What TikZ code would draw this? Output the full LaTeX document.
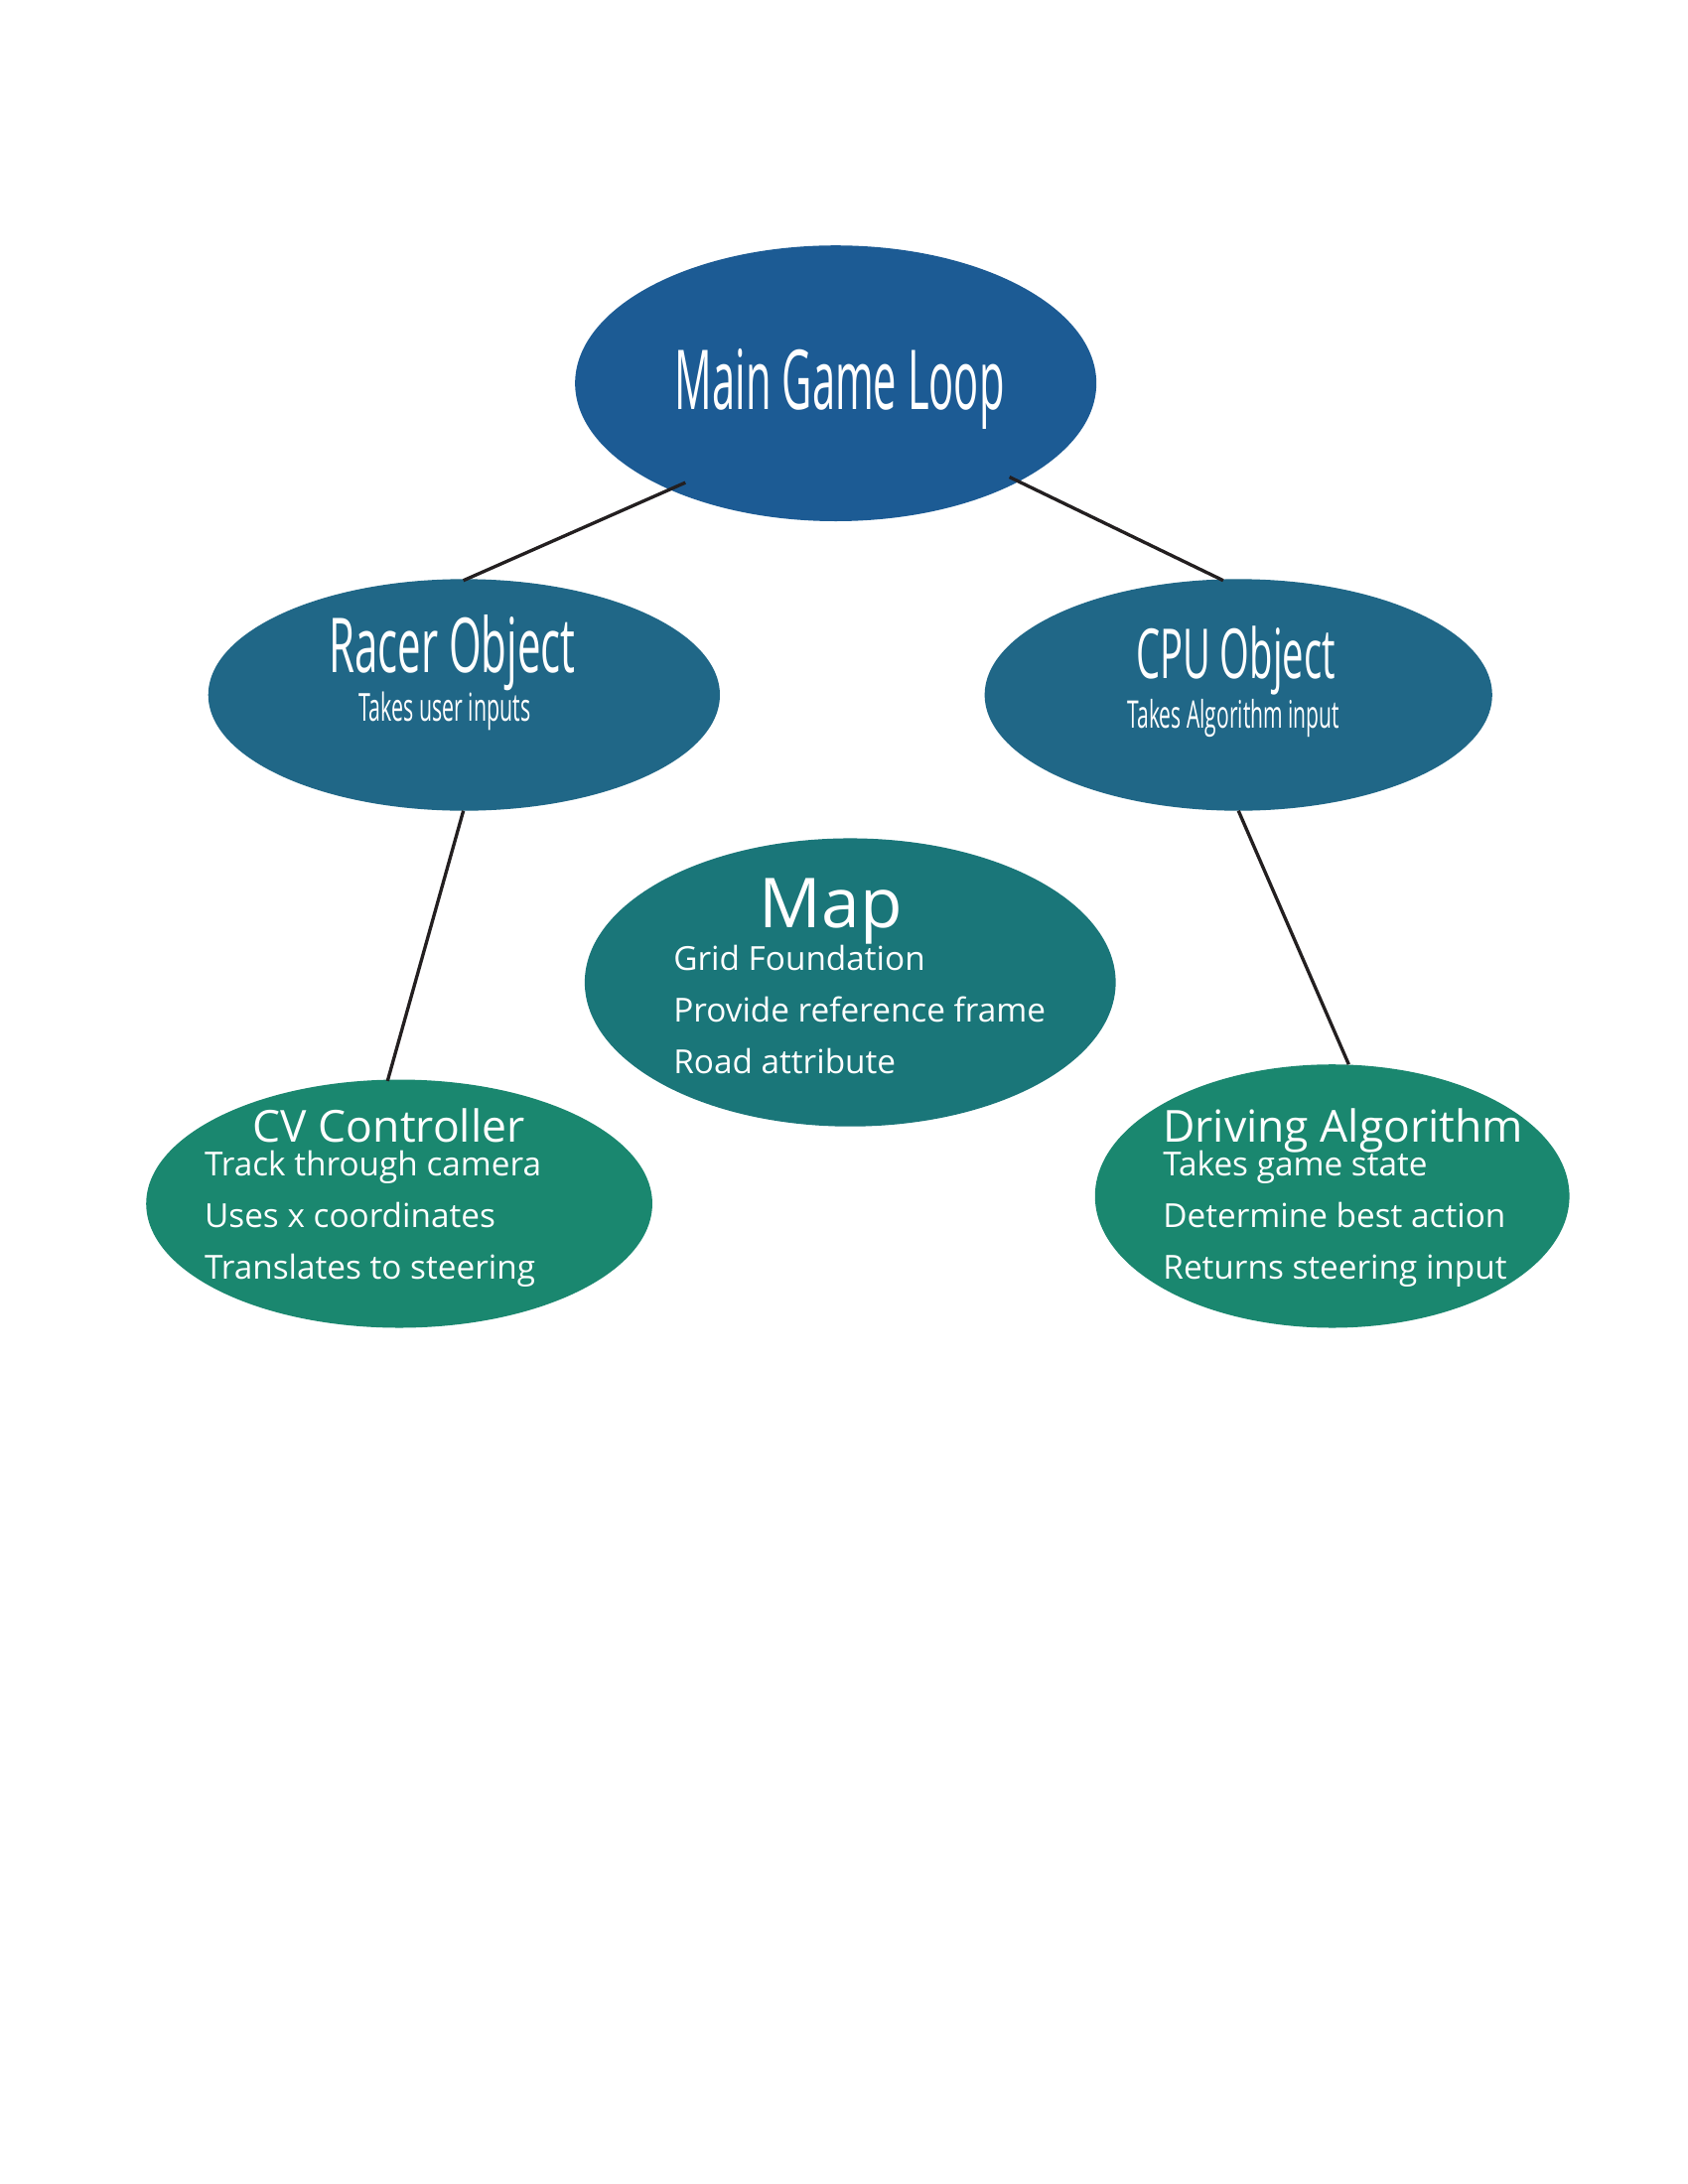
\documentclass[tikz,border=0pt]{standalone}
\usepackage{fontspec}
\setmainfont{Open Sans}
\newfontfamily\condfont[FakeStretch=0.55]{Open Sans}
\newfontfamily\narrowfont[FakeStretch=0.5]{Open Sans}
\usetikzlibrary{shapes.geometric}
\definecolor{cmain}{RGB}{28,91,148}
\definecolor{cmid}{RGB}{32,103,135}
\definecolor{cmap}{RGB}{26,118,121}
\definecolor{cleaf}{RGB}{26,135,111}
\definecolor{cline}{RGB}{35,31,32}
\tikzset{
  blob/.style={ellipse, inner sep=0pt, draw=none},
  conn/.style={draw=cline, line width=1.2pt},
  txt/.style={text=white, inner sep=0pt},
  ttl/.style={txt, anchor=base},
  bodyline/.style={txt, anchor=base west, font=\fontsize{12}{14}\selectfont},
}
\begin{document}
\begin{tikzpicture}[x=0.5pt,y=-0.5pt]
\useasboundingbox (0,0) rectangle (1224,1584);
\fill[white] (0,0) rectangle (1224,1584);
% ellipses
\node[blob, fill=cmain, minimum width=189pt, minimum height=100pt] (main) at (606,278) {};
\node[blob, fill=cmid, minimum width=185.5pt, minimum height=84pt] (racer) at (336.5,504) {};
\node[blob, fill=cmid, minimum width=184pt, minimum height=84pt] (cpu) at (898,504) {};
\node[blob, fill=cmap, minimum width=192.5pt, minimum height=104.5pt] (map) at (616.5,712.5) {};
\node[blob, fill=cleaf, minimum width=183.5pt, minimum height=90pt] (cv) at (289.5,873) {};
\node[blob, fill=cleaf, minimum width=172pt, minimum height=95.5pt] (drive) at (966,867.5) {};
% connectors
\coordinate (m1) at (497,350);
\coordinate (m2) at (732,346);
\coordinate (r1) at (336,421);
\coordinate (c1) at (887,421);
\coordinate (r2) at (336,588);
\coordinate (cv1) at (281,784);
\coordinate (c2) at (898,588);
\coordinate (d1) at (978,772);
\draw[conn] (m1) -- (r1);
\draw[conn] (m2) -- (c1);
\draw[conn] (r2) -- (cv1);
\draw[conn] (c2) -- (d1);
% texts
\node[ttl, font=\narrowfont\fontsize{30}{36}\selectfont] (tmain) at (609,297) {Main Game Loop};
\node[ttl, font=\condfont\fontsize{27.5}{32}\selectfont] (tracer) at (328,488) {Racer Object};
\node[ttl, font=\condfont\fontsize{14}{16}\selectfont] (sracer) at (322.5,523) {Takes user inputs};
\node[ttl, font=\condfont\fontsize{25}{30}\selectfont] (tcpu) at (896,492) {CPU Object};
\node[ttl, font=\condfont\fontsize{13.8}{16}\selectfont] (scpu) at (894.5,528) {Takes Algorithm input};
\node[ttl, font=\fontsize{25}{30}\selectfont] (tmap) at (602.5,673) {Map};
\node[bodyline] (map1) at (488,704) {Grid Foundation};
\node[bodyline] (map2) at (488,741) {Provide reference frame};
\node[bodyline] (map3) at (488,779) {Road attribute};
\node[ttl, font=\fontsize{16}{19}\selectfont] (tcv) at (282,828) {CV Controller};
\node[bodyline] (cv1t) at (148,853) {Track through camera};
\node[bodyline] (cv2t) at (148,890) {Uses x coordinates};
\node[bodyline] (cv3t) at (148,928) {Translates to steering};
\node[txt, anchor=base west, font=\fontsize{16}{19}\selectfont] (tdrive) at (843,828) {Driving Algorithm};
\node[bodyline] (d1t) at (843,853) {Takes game state};
\node[bodyline] (d2t) at (843,890) {Determine best action};
\node[bodyline] (d3t) at (843,928) {Returns steering input};
\end{tikzpicture}
\end{document}
